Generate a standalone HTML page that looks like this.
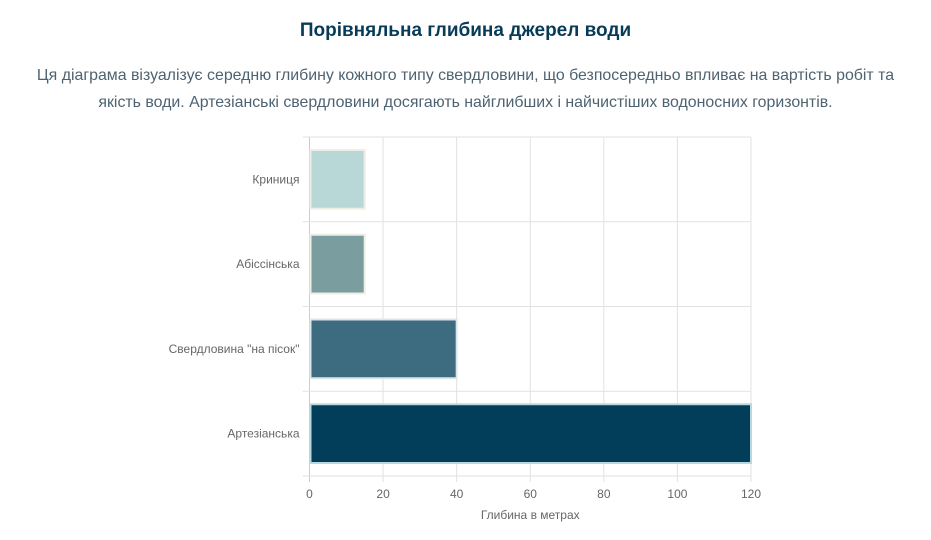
<!DOCTYPE html>
<html><head><meta charset="utf-8"><style>
body{margin:0;background:#fff;width:931px;height:540px;overflow:hidden;font-family:"Liberation Sans",sans-serif}
h1{position:absolute;top:20px;left:0;width:931px;margin:0;text-align:center;font-size:19px;font-weight:bold;color:#073b58}
p{position:absolute;top:62px;left:20px;width:891px;margin:0;text-align:center;font-size:15.9px;line-height:27px;color:#4d6372}
svg{position:absolute;left:0;top:0}
</style></head><body>
<h1>Порівняльна глибина джерел води</h1>
<p>Ця діаграма візуалізує середню глибину кожного типу свердловини, що безпосередньо впливає на вартість робіт та якість води. Артезіанські свердловини досягають найглибших і найчистіших водоносних горизонтів.</p>
<svg id="c" width="931" height="540"></svg>
<script>
const categories=["Криниця","Абіссінська","Свердловина \"на пісок\"","Артезіанська"];
const depths=[15,15,40,120];
const ticks=[0,20,40,60,80,100,120];
const colors=["#b8d8d8","#7a9e9f","#3d6b80","#023e5a"];
const borders=["#f0ede6","#f0ede6","#dde6ea","#b8d8e0"];
const L=309.5,R=751,T=137,B=476,max=120;
const x=v=>L+(R-L)*v/max;
const bandH=(B-T)/categories.length;
const y=i=>T+bandH*i;
const svg=document.getElementById('c');const NS='http://www.w3.org/2000/svg';
function mk(t,a){const e=document.createElementNS(NS,t);for(const k in a)e.setAttribute(k,a[k]);svg.appendChild(e);return e;}
ticks.forEach(t=>{
const g=mk('line',{x1:x(t),x2:x(t),y1:T,y2:B+6,stroke:t===0?'#ccc':'#e2e2e2','stroke-width':1});


const tx=mk('text',{x:x(t),y:B+22,'text-anchor':'middle','font-size':12,fill:'#666','font-family':'Liberation Sans, sans-serif'});
tx.textContent=t;


});
for(let i=0;i<=categories.length;i++){
const g=mk('line',{x1:L-7,x2:R,y1:y(i),y2:y(i),stroke:'#e2e2e2','stroke-width':1});


}
categories.forEach((c,i)=>{
const pad=13;
const r=mk('rect',{x:x(0)+1,y:y(i)+pad,width:x(depths[i])-x(0)-1,height:bandH-2*pad,fill:colors[i],stroke:borders[i],'stroke-width':2});


const t=mk('text',{x:L-10,y:y(i)+bandH/2+4,'text-anchor':'end','font-size':12,fill:'#666','font-family':'Liberation Sans, sans-serif'});
t.textContent=c;


});
const at=mk('text',{x:(L+R)/2,y:519,'text-anchor':'middle','font-size':12,fill:'#666','font-family':'Liberation Sans, sans-serif'});
at.textContent='Глибина в метрах';


</script>
</body></html>
